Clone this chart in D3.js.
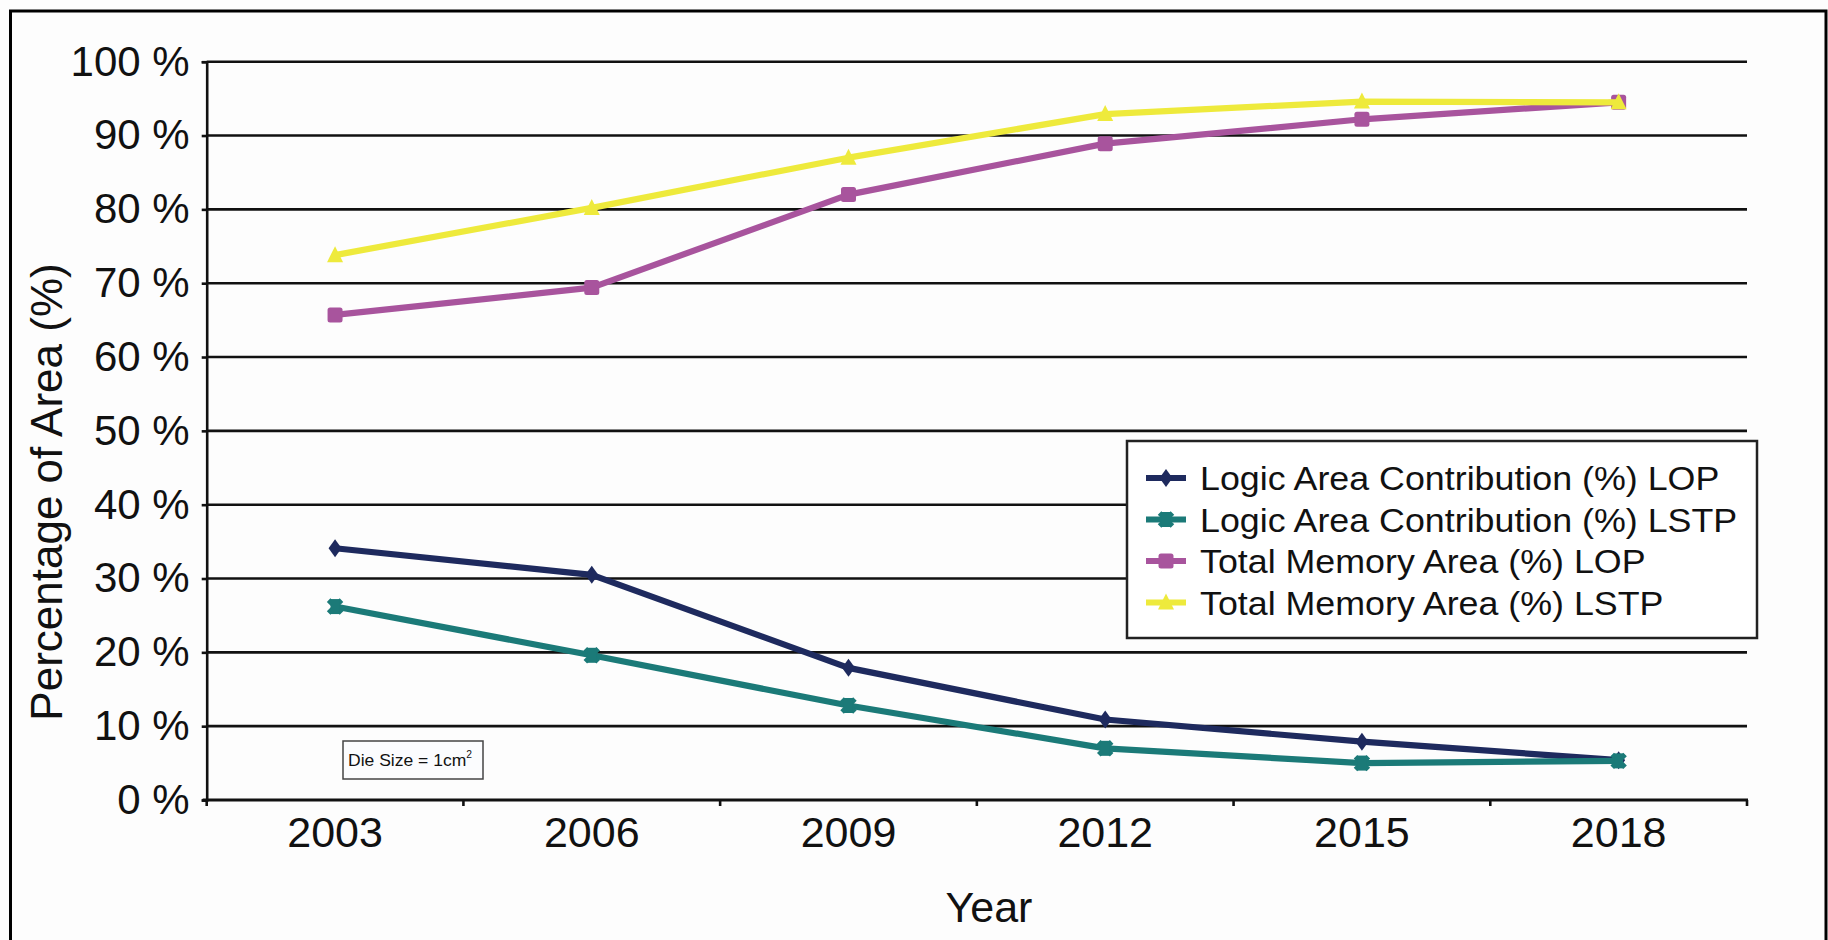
<!DOCTYPE html>
<html>
<head>
<meta charset="utf-8">
<script src="https://cdn.jsdelivr.net/npm/d3@7"></script>
<style>
  html, body { margin: 0; padding: 0; background: #ffffff; }
  svg { display: block; font-family: "Liberation Sans", Arial, Helvetica, sans-serif; }
</style>
</head>
<body>
<svg id="chart" width="1828" height="940"></svg>
<script>
// Share of die area taken by logic and by memory, per technology year
const years = ["2003", "2006", "2009", "2012", "2015", "2018"];
const logicLOP  = [34.1, 30.5, 17.9, 10.9, 7.9, 5.4];
const logicLSTP = [26.2, 19.6, 12.8, 7.0, 5.0, 5.3];
const memoryLOP  = [65.7, 69.4, 82.0, 88.9, 92.2, 94.5];
const memoryLSTP = [73.8, 80.2, 87.0, 92.9, 94.6, 94.5];
const yTicks = [0, 10, 20, 30, 40, 50, 60, 70, 80, 90, 100];

const seriesNames = [
  "Logic Area Contribution (%) LOP",
  "Logic Area Contribution (%) LSTP",
  "Total Memory Area (%) LOP",
  "Total Memory Area (%) LSTP"
];
const seriesValues = [logicLOP, logicLSTP, memoryLOP, memoryLSTP];
const seriesColors = ["#1e2a5e", "#1b7a78", "#a8549d", "#eeea3c"];
const seriesMarkers = ["diamond", "asterisk", "square", "triangle"];

const svg = d3.select("#chart");
const W = 1828, H = 940;
const plot = { left: 206.7, right: 1747, top: 61.7, bottom: 800 };

// outer frame
svg.append("rect").attr("x", 0).attr("y", 0).attr("width", W).attr("height", H).attr("fill", "#fdfdfd");
svg.append("rect")
  .attr("x", 10.5).attr("y", 11).attr("width", 1815.5).attr("height", 1000)
  .attr("fill", "none").attr("stroke", "#000").attr("stroke-width", 3);

const x = d3.scaleBand().domain(years).range([plot.left, plot.right]).paddingInner(0).paddingOuter(0);
const y = d3.scaleLinear().domain([0, 100]).range([plot.bottom, plot.top]);

// horizontal gridlines
svg.append("g").selectAll("line").data(yTicks.filter(d => d > 0)).join("line")
  .attr("x1", plot.left).attr("x2", plot.right)
  .attr("y1", d => y(d)).attr("y2", d => y(d))
  .attr("stroke", "#111").attr("stroke-width", 2.6);

// y axis
const yAxis = svg.append("g").attr("transform", `translate(${plot.left},0)`)
  .call(d3.axisLeft(y).tickValues(yTicks).tickSize(5).tickPadding(12).tickFormat(d => d + " %"));
yAxis.select(".domain").attr("stroke", "#111").attr("stroke-width", 2.6);
yAxis.selectAll(".tick line").attr("stroke", "#111").attr("stroke-width", 2.6);
yAxis.selectAll(".tick text")
  .attr("font-size", 42).attr("fill", "#111")
  .attr("font-family", "'Liberation Sans', Arial, sans-serif");

// x axis: labels at category centres, ticks at category boundaries
const xAxis = svg.append("g").attr("transform", `translate(0,${plot.bottom})`)
  .call(d3.axisBottom(x).tickSize(0).tickPadding(16));
xAxis.select(".domain").remove();
xAxis.selectAll(".tick text")
  .attr("font-size", 43).attr("fill", "#111")
  .attr("font-family", "'Liberation Sans', Arial, sans-serif");

svg.append("line")
  .attr("x1", plot.left - 4).attr("x2", plot.right + 1)
  .attr("y1", plot.bottom).attr("y2", plot.bottom)
  .attr("stroke", "#111").attr("stroke-width", 2.8);
const bounds = years.map(d => x(d)).concat([x(years[years.length - 1]) + x.bandwidth()]);
svg.append("g").selectAll("line").data(bounds).join("line")
  .attr("x1", d => d).attr("x2", d => d)
  .attr("y1", plot.bottom).attr("y2", plot.bottom + 6)
  .attr("stroke", "#111").attr("stroke-width", 2.6);

// axis titles
svg.append("text")
  .attr("transform", `translate(62,492) rotate(-90)`)
  .attr("text-anchor", "middle").attr("font-size", 44).attr("fill", "#111")
  .text("Percentage of Area (%)");
svg.append("text")
  .attr("x", 989).attr("y", 922)
  .attr("text-anchor", "middle").attr("font-size", 43).attr("fill", "#111")
  .text("Year");

// marker shapes
function drawMarker(g, type, color, cx, cy) {
  if (type === "diamond") {
    g.append("path")
      .attr("d", `M${cx},${cy - 9} L${cx + 6.5},${cy} L${cx},${cy + 9} L${cx - 6.5},${cy} Z`)
      .attr("fill", color);
  } else if (type === "asterisk") {
    g.append("path")
      .attr("transform", `translate(${cx},${cy})`)
      .attr("d", d3.symbol(d3.symbolX, 110)())
      .attr("fill", "none").attr("stroke", color).attr("stroke-width", 5);
    g.append("rect")
      .attr("x", cx - 4.5).attr("y", cy - 7.5).attr("width", 9).attr("height", 15)
      .attr("fill", color);
  } else if (type === "square") {
    g.append("rect")
      .attr("x", cx - 7.5).attr("y", cy - 7.5).attr("width", 15).attr("height", 15)
      .attr("rx", 2.5).attr("fill", color);
  } else if (type === "triangle") {
    g.append("path")
      .attr("d", `M${cx},${cy - 9} L${cx + 8},${cy + 7} L${cx - 8},${cy + 7} Z`)
      .attr("fill", color);
  }
}

// series lines and markers
const line = d3.line().x((d, i) => x(years[i]) + x.bandwidth() / 2).y(d => y(d));
seriesValues.forEach((vals, s) => {
  const g = svg.append("g");
  g.append("path").datum(vals)
    .attr("d", line)
    .attr("fill", "none").attr("stroke", seriesColors[s])
    .attr("stroke-width", 6.2).attr("stroke-linejoin", "round");
  vals.forEach((v, i) => drawMarker(g, seriesMarkers[s], seriesColors[s], x(years[i]) + x.bandwidth() / 2, y(v)));
});

// legend
const lg = svg.append("g");
lg.append("rect")
  .attr("x", 1127).attr("y", 441).attr("width", 630).attr("height", 197)
  .attr("fill", "#ffffff").attr("stroke", "#222").attr("stroke-width", 2.5);
seriesNames.forEach((name, i) => {
  const cy = 478 + i * 41.5;
  lg.append("line")
    .attr("x1", 1146).attr("x2", 1186).attr("y1", cy).attr("y2", cy)
    .attr("stroke", seriesColors[i]).attr("stroke-width", 6.2);
  drawMarker(lg, seriesMarkers[i], seriesColors[i], 1166, cy);
  lg.append("text")
    .attr("transform", `translate(1200,${cy + 12}) scale(1.085,1)`)
    .attr("font-size", 33).attr("fill", "#111")
    .text(name);
});

// die size annotation
const note = svg.append("g");
note.append("rect")
  .attr("x", 343).attr("y", 741).attr("width", 140).attr("height", 38)
  .attr("fill", "#fbfcfe").attr("stroke", "#444").attr("stroke-width", 1.5);
const nt = note.append("text")
  .attr("x", 348).attr("y", 766)
  .attr("font-size", 17).attr("fill", "#111")
  .attr("textLength", 124).attr("lengthAdjust", "spacingAndGlyphs");
nt.append("tspan").text("Die Size = 1cm");
nt.append("tspan").attr("font-size", 10).attr("dy", -8).text("2");
</script>
</body>
</html>
